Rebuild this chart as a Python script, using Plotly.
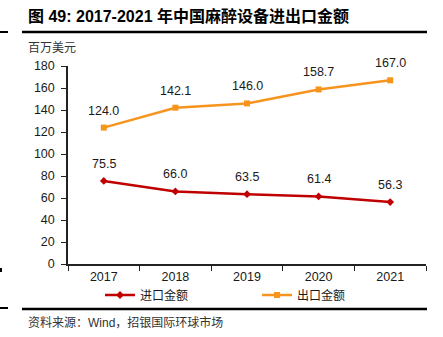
import plotly.graph_objects as go

years = ["2017", "2018", "2019", "2020", "2021"]
imports = [75.5, 66.0, 63.5, 61.4, 56.3]
exports = [124.0, 142.1, 146.0, 158.7, 167.0]
y_ticks = [0, 20, 40, 60, 80, 100, 120, 140, 160, 180]

RED = "#C00000"
ORANGE = "#F7941D"
W, H = 443, 337
L, R, T, B = 68, 17, 66, 73
PW, PH = W - L - R, H - T - B

def px(x):
    return (x - L) / PW

def py(y):
    return (H - B - y) / PH

xpos = list(range(len(years)))
bounds = [i - 0.5 for i in range(len(years) + 1)]

fig = go.Figure()
fig.add_trace(go.Scatter(x=xpos, y=imports, name="进口金额", mode="lines+markers",
                         line=dict(color=RED, width=2.5),
                         marker=dict(symbol="diamond", size=6, color=RED)))
fig.add_trace(go.Scatter(x=xpos, y=exports, name="出口金额", mode="lines+markers",
                         line=dict(color=ORANGE, width=2.5),
                         marker=dict(symbol="square", size=6, color=ORANGE)))

anns = []
for series in (imports, exports):
    for xv, yv in zip(xpos, series):
        anns.append(dict(x=xv, y=yv, text=f"{yv:.1f}", showarrow=False, yshift=17,
                         font=dict(size=12.5, color="#1a1a1a", family="Liberation Sans, Arial")))

anns.append(dict(x=px(26), y=py(16), xref="paper", yref="paper", xanchor="left", yanchor="middle",
                 showarrow=False, text="<b>图 49: 2017-2021 年中国麻醉设备进出口金额</b>",
                 font=dict(size=16, color="#000", family="Liberation Sans, Noto Sans CJK SC")))
anns.append(dict(x=px(26), y=py(46), xref="paper", yref="paper", xanchor="left", yanchor="middle",
                 showarrow=False, text="百万美元",
                 font=dict(size=12, color="#333", family="Noto Sans CJK SC")))
anns.append(dict(x=px(26), y=py(322), xref="paper", yref="paper", xanchor="left", yanchor="middle",
                 showarrow=False, text="资料来源：Wind，招银国际环球市场",
                 font=dict(size=12, color="#333", family="Liberation Sans, Noto Sans CJK SC")))

shapes = [
    dict(type="line", xref="paper", yref="paper", x0=px(22), x1=px(427), y0=py(32), y1=py(32),
         line=dict(color="#000", width=2.5)),
    dict(type="line", xref="paper", yref="paper", x0=px(0), x1=px(8), y0=py(32), y1=py(32),
         line=dict(color="#000", width=2)),
    dict(type="line", xref="paper", yref="paper", x0=px(22), x1=px(427), y0=py(309), y1=py(309),
         line=dict(color="#000", width=2.5)),
    dict(type="line", xref="paper", yref="paper", x0=px(0), x1=px(8), y0=py(308), y1=py(308),
         line=dict(color="#000", width=2)),
    dict(type="rect", xref="paper", yref="paper", x0=px(0), x1=px(2), y0=py(268), y1=py(272),
         line=dict(width=0), fillcolor="#000"),
]

fig.update_layout(
    width=W, height=H,
    margin=dict(l=L, r=R, t=T, b=B),
    paper_bgcolor="white", plot_bgcolor="white",
    font=dict(family="Liberation Sans, Arial", size=12, color="#1a1a1a"),
    showlegend=True,
    legend=dict(orientation="h", x=px(100), xanchor="left", y=py(295), yanchor="middle",
                bgcolor="rgba(0,0,0,0)",
                font=dict(size=12, family="Noto Sans CJK SC", color="#1a1a1a"),
                entrywidth=112, entrywidthmode="pixels", tracegroupgap=0),
    annotations=anns,
    shapes=shapes,
    xaxis=dict(range=[-0.5, len(years) - 0.5], tickvals=xpos, ticktext=years, ticks="",
               showline=True, linecolor="#222", linewidth=1.5,
               minor=dict(tickvals=bounds, ticks="outside", ticklen=5, tickcolor="#222"),
               showgrid=False, zeroline=False, tickfont=dict(size=12.5), fixedrange=True),
    yaxis=dict(range=[0, 180], tickvals=y_ticks, showline=True, linecolor="#222", linewidth=1.5,
               ticks="outside", ticklen=5, tickcolor="#222", showgrid=False, zeroline=False,
               tickfont=dict(size=12.5), ticklabelstandoff=4),
)

fig.write_html("out.html")
